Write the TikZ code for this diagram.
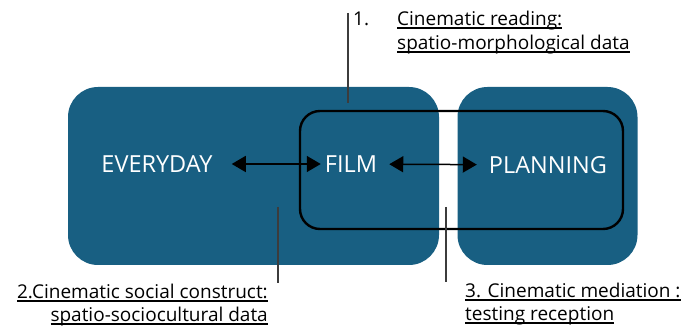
\documentclass[tikz,border=0pt]{standalone}
\usepackage{fontspec}
\setmainfont{Open Sans}
\usetikzlibrary{arrows.meta,positioning}
\definecolor{boxblue}{RGB}{24,95,130}
\definecolor{leadgray}{RGB}{60,60,60}
\newsavebox{\undlbox}
\newcommand{\undl}[1]{\sbox{\undlbox}{#1}\rlap{\rule[-2.6pt]{\wd\undlbox}{1.1pt}}\usebox{\undlbox}}

\begin{document}
\begin{tikzpicture}[x=1pt, y=-1pt,
        blk/.style={fill=boxblue, rounded corners=30pt, inner sep=0pt},
        frame/.style={draw=black, line width=2.4pt, rounded corners=20pt, inner sep=0pt},
        word/.style={text=white, font=\fontsize{23.5}{28}\selectfont, inner sep=0pt},
        lbl/.style={font=\fontsize{19}{24}\selectfont, inner sep=0pt},
        dbl/.style={{Triangle[length=14pt,width=16pt]}-{Triangle[length=14pt,width=16pt]}, line width=1.5pt},
        lead/.style={draw=leadgray, line width=1.3pt}]
        \useasboundingbox (0,0) rectangle (681,328);
        % Boxes
        \node[blk, minimum width=371pt, minimum height=178pt] (daily) at (253.5,176) {};
        \node[blk, minimum width=180pt, minimum height=178pt] (plan) at (547.5,176) {};
        \node[frame, minimum width=323pt, minimum height=118pt] (frm) at (461.5,170) {};
        % Words
        \node[word] (everyday) at (157,164) {EVERYDAY};
        \node[word] (film) at (351,164) {FILM};
        \node[word] (planning) at (548,165) {PLANNING};
        % Double arrows
        \draw[dbl, shorten <=19pt, shorten >=4pt] (everyday) -- (film);
        \draw[dbl, shorten <=12pt, shorten >=12pt] (film) -- (planning);
        % Leader lines
        \coordinate (l1a) at (348,13);
        \coordinate (l1b) at (348,103);
        \coordinate (l2a) at (278,207);
        \coordinate (l2b) at (278,283);
        \coordinate (l3a) at (446,207);
        \coordinate (l3b) at (446,282);
        \draw[lead] (l1a) -- (l1b);
        \draw[lead] (l2a) -- (l2b);
        \draw[lead] (l3a) -- (l3b);
        % Labels
        \node[lbl, anchor=base west] (n1) at (353,26) {1.};
        \node[lbl, anchor=base west] (r1) at (397,26) {\undl{Cinematic reading:}};
        \node[lbl, anchor=base west] (r2) at (397,50) {\undl{spatio-morphological data}};
        \node[lbl, anchor=base east] (s1) at (268,299) {\undl{2.Cinematic social construct:}};
        \node[lbl, anchor=base east] (s2) at (268,322) {\undl{spatio-sociocultural data}};
        \node[lbl, anchor=base west] (m1) at (465,298) {\undl{3. Cinematic mediation :}};
        \node[lbl, anchor=base west] (m2) at (465,321) {\undl{testing reception}};
    \end{tikzpicture}
\end{document}
